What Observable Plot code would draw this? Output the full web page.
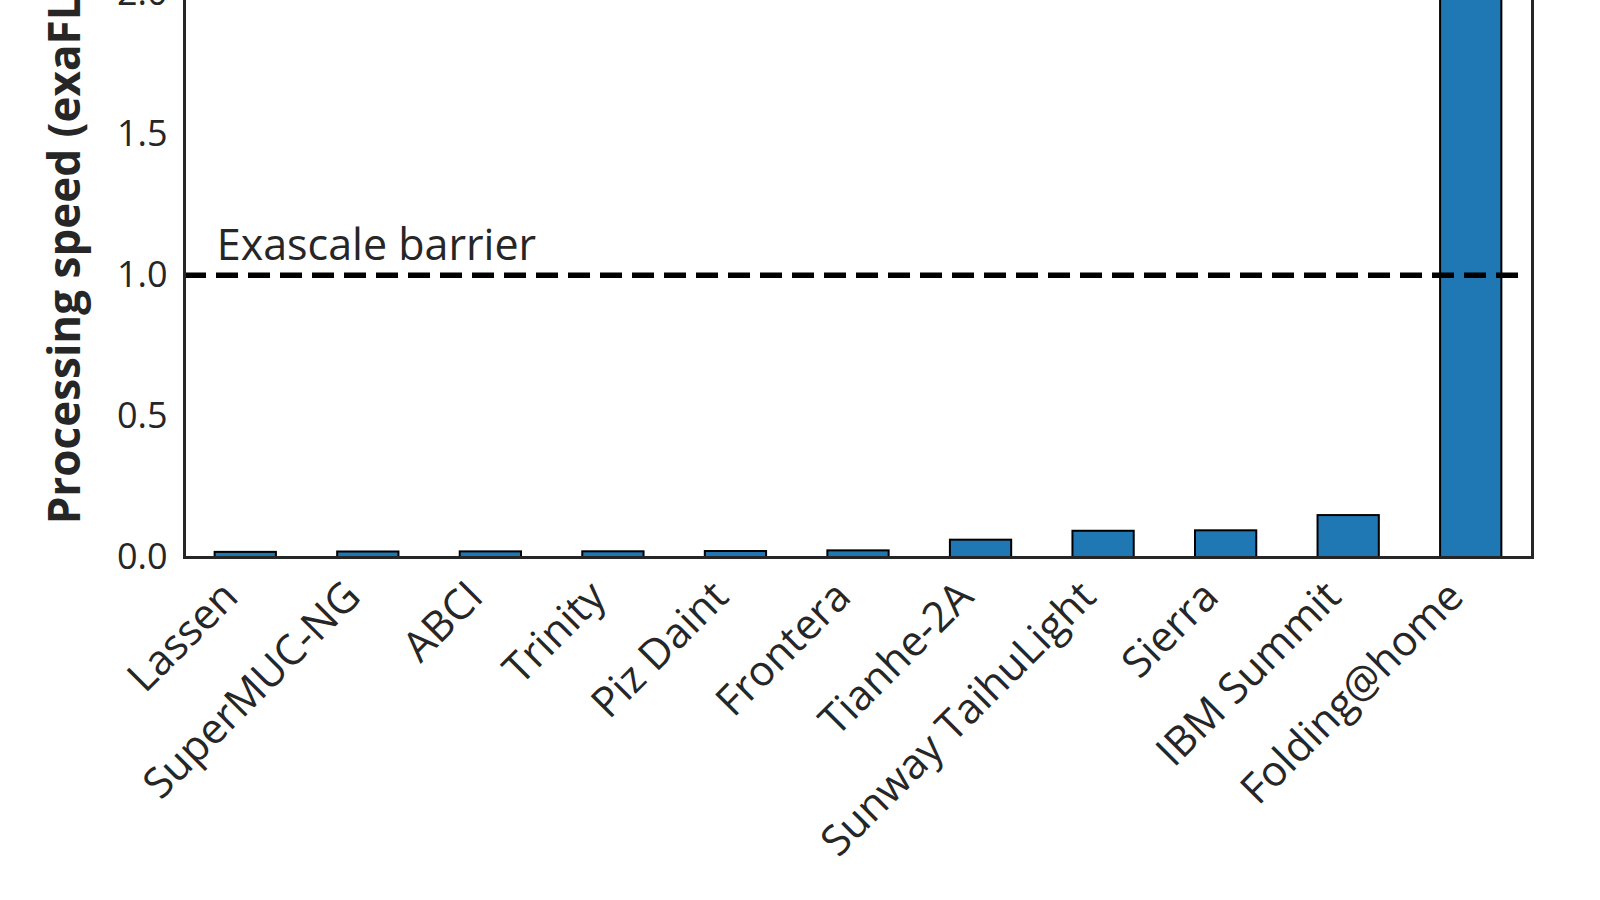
<!DOCTYPE html>
<html>
<head>
<meta charset="utf-8">
<script src="https://cdn.jsdelivr.net/npm/d3@7"></script>
<script src="https://cdn.jsdelivr.net/npm/@observablehq/plot@0.6"></script>
<style>
  html, body { margin: 0; padding: 0; background: #fff; width: 1600px; height: 900px; overflow: hidden; }
  #chart { position: absolute; left: 0; top: -164px; }
</style>
</head>
<body>
<div id="chart"></div>
<script>
const systems = ["Lassen", "SuperMUC-NG", "ABCI", "Trinity", "Piz Daint", "Frontera",
  "Tianhe-2A", "Sunway TaihuLight", "Sierra", "IBM Summit", "Folding@home"];
const speeds = [0.0182, 0.0195, 0.0199, 0.0202, 0.0212, 0.0235,
  0.0614, 0.0930, 0.0946, 0.1486, 2.4];
const yTicks = [0, 0.5, 1.0, 1.5, 2.0, 2.5];
const barrierValue = 1.0;
const barrierLabel = "Exascale barrier";
const yLabel = "Processing speed (exaFLOPS)";

const data = systems.map((name, i) => ({name, value: speeds[i]}));
const ink = "#262626";
const font = "'Open Sans', 'DejaVu Sans', sans-serif";

const chart = Plot.plot({
  width: 1600,
  height: 1064,
  marginLeft: 184,
  marginRight: 68,
  marginTop: 10,
  marginBottom: 343,
  style: {fontFamily: font, color: ink, background: "#fff"},
  x: {domain: systems, paddingInner: 0.5, paddingOuter: 0.25, round: false},
  y: {domain: [0, 2.52]},
  marks: [
    Plot.barY(data, {x: "name", y: "value", fill: "#1f77b4", stroke: "#000", strokeWidth: 2}),
    Plot.ruleY([barrierValue], {stroke: "#000", strokeWidth: 5.5, strokeDasharray: "22,10", insetRight: 8}),
    Plot.text([barrierLabel], {x: () => systems[0], y: () => barrierValue, text: d => d,
      textAnchor: "start", lineAnchor: "bottom", dx: -29, dy: -15, fontSize: 43, fill: ink}),
    Plot.axisY({ticks: yTicks, tickFormat: d3.format(".1f"), tickSize: 0, tickPadding: 17,
      fontSize: 36, label: null, color: ink}),
    Plot.axisX({tickSize: 0, tickRotate: -45, fontSize: 42, tickPadding: 32, dx: -15, label: null, color: ink}),
    Plot.text([yLabel], {frameAnchor: "left", text: d => d, rotate: -90, textAnchor: "middle",
      lineAnchor: "bottom", dx: -105, dy: 7, fontSize: 44, fontWeight: "bold", fill: ink}),
    Plot.frame({stroke: ink, strokeWidth: 3})
  ]
});
document.getElementById("chart").appendChild(chart);
</script>
</body>
</html>
